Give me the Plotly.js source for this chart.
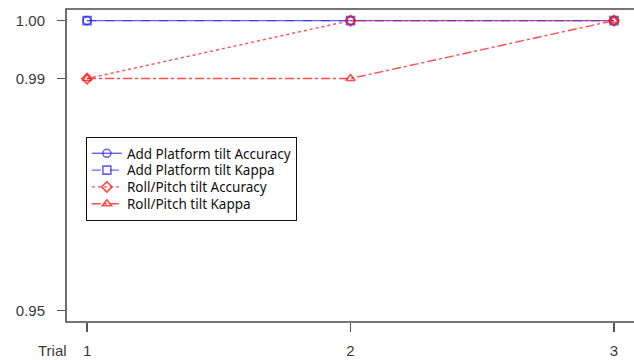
<!DOCTYPE html>
<html>
<head>
<meta charset="utf-8">
<script src="https://cdn.plot.ly/plotly-3.0.1.min.js"></script>
<style>
  html, body { margin: 0; padding: 0; background: #fff; }
  #chart { width: 634px; height: 360px; }
</style>
</head>
<body>
<div id="chart"></div>
<script>
// Trials on the x axis
const trials = [1, 2, 3];
const trialLabels = ["1", "2", "3"];

// Classification scores per trial
const addPlatformAccuracy = [1.00, 1.00, 1.00];
const addPlatformKappa    = [1.00, 1.00, 1.00];
const rollPitchAccuracy   = [0.99, 1.00, 1.00];
const rollPitchKappa      = [0.99, 0.99, 1.00];

const seriesNames = [
  "Add Platform tilt Accuracy",
  "Add Platform tilt Kappa",
  "Roll/Pitch tilt Accuracy",
  "Roll/Pitch tilt Kappa"
];

const yTicks = [0.95, 0.99, 1.00];
const yTickLabels = ["0.95", "0.99", "1.00"];

const blue = "rgba(40,40,245,0.72)";
const red = "rgba(255,25,25,0.78)";

function series(y, name, color, dash, symbol) {
  return {
    x: trials, y: y, name: name, type: "scatter", mode: "lines+markers",
    line: { color: color, width: 1.4, dash: dash },
    marker: { symbol: symbol, size: 8, color: color, line: { width: 1.6 } },
    cliponaxis: false
  };
}

const data = [
  series(addPlatformAccuracy, seriesNames[0], blue, "solid", "circle-open"),
  series(addPlatformKappa, seriesNames[1], blue, "dash", "square-open"),
  series(rollPitchAccuracy, seriesNames[2], red, "dot", "diamond-open"),
  series(rollPitchKappa, seriesNames[3], red, "dashdot", "triangle-up-open")
];

const axisFont = { family: "Liberation Sans, Arial, sans-serif", size: 15, color: "#3a3a3a" };

const layout = {
  width: 634, height: 360,
  margin: { l: 66, r: 0, t: 9, b: 38 },
  paper_bgcolor: "#fff", plot_bgcolor: "#fff",
  showlegend: true,
  legend: {
    x: 0.035, y: 0.591, xanchor: "left", yanchor: "top",
    bordercolor: "#111", borderwidth: 1, bgcolor: "#fff",
    font: { family: "Noto Sans, Open Sans, sans-serif", size: 13.5, color: "#111" },
    tracegroupgap: 0, itemwidth: 30
  },
  xaxis: {
    range: [0.92, 3.076], tickvals: trials, ticktext: trialLabels,
    showgrid: false, zeroline: false, showline: false,
    ticks: "outside", ticklen: 9, tickwidth: 1.2, tickcolor: "#555",
    tickfont: axisFont, ticklabelstandoff: 6
  },
  yaxis: {
    range: [0.948, 1.002], tickvals: yTicks, ticktext: yTickLabels,
    showgrid: false, zeroline: false, showline: false,
    ticks: "outside", ticklen: 8, tickwidth: 1.2, tickcolor: "#555",
    tickfont: axisFont, ticklabelstandoff: 9
  },
  // frame round the plotting region
  shapes: [
    { type: "rect", xref: "paper", yref: "paper", x0: 0, x1: 1.002, y0: 0, y1: 1,
      line: { color: "#4a4a4a", width: 1.6 }, layer: "above" }
  ],
  annotations: [{
    text: "Trial", xref: "paper", yref: "paper", x: 0.005, y: 0,
    xanchor: "right", yanchor: "top", yshift: -18, showarrow: false,
    font: axisFont
  }]
};

Plotly.newPlot("chart", data, layout, { displayModeBar: false, staticPlot: true }).then(function (gd) {
  // tighten the legend rows to a fixed pitch
  const rows = gd.querySelectorAll(".legend .traces");
  const pitch = 16.8;
  let first = null, last = null;
  rows.forEach(function (row, i) {
    const m = /translate\(([-\d.]+),\s*([-\d.]+)\)/.exec(row.getAttribute("transform") || "");
    if (!m) return;
    const x = parseFloat(m[1]), y = parseFloat(m[2]);
    if (first === null) first = y;
    if (i === rows.length - 1) last = y;
    row.setAttribute("transform", "translate(" + x + "," + (first + i * pitch) + ")");
  });
  if (first !== null && last !== null) {
    const shrink = (last - first) - (rows.length - 1) * pitch;
    const bg = gd.querySelector(".legend .bg");
    if (bg) bg.setAttribute("height", parseFloat(bg.getAttribute("height")) - shrink);
  }
});
</script>
</body>
</html>
